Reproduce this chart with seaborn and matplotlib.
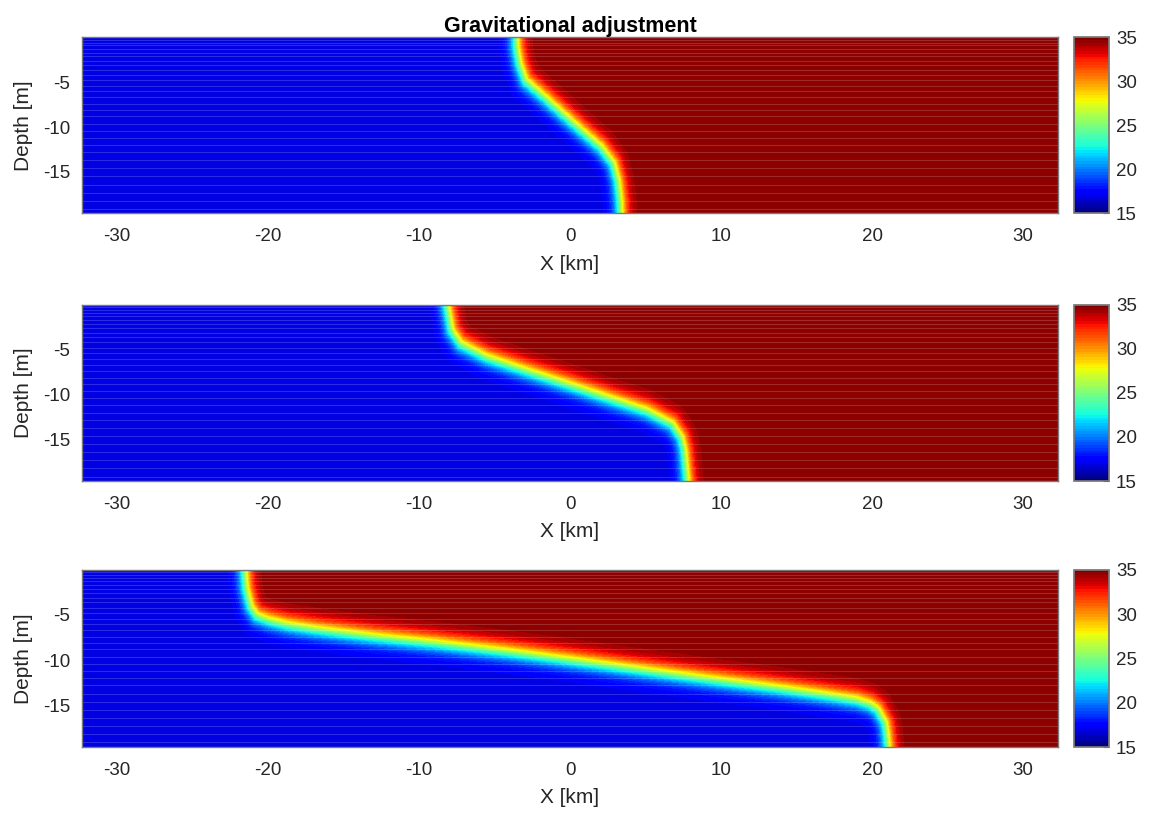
import numpy as np
import matplotlib
matplotlib.use("Agg")
import matplotlib.pyplot as plt
import seaborn as sns
from matplotlib.colors import Normalize
from matplotlib.cm import ScalarMappable

# front position (x in km) read at depths (m) for each snapshot
front_depth_1 = [0, -1.0, -2.9, -4.75, -6.6, -8.5, -10.3, -12.2, -14.0, -15.9, -18.0, -19.6]
front_x_1 = [-3.5, -3.5, -3.3, -2.9, -1.65, -0.4, 0.8, 2.1, 2.9, 3.2, 3.35, 3.4]

front_depth_2 = [0, -2.8, -4.27, -5.75, -7.24, -8.72, -10.2, -11.7, -13.2, -14.7, -16.1, -19.6]
front_x_2 = [-8.1, -7.8, -7.2, -5.5, -2.9, -0.2, 2.4, 5.1, 6.8, 7.4, 7.6, 7.8]

front_depth_3 = [0, -2.0, -4.0, -5.0, -5.5, -6.0, -6.5, -7.3, -8.0, -9.0, -10.0, -11.0,
                 -12.0, -13.0, -13.6, -14.3, -14.8, -15.4, -16.9, -18.0, -19.6]
front_x_3 = [-21.5, -21.4, -21.1, -20.7, -19.9, -18.7, -16.8, -13.0, -9.0, -4.0, 0.5, 4.8,
             9.2, 13.8, 16.3, 19.0, 19.9, 20.4, 20.9, 21.0, 21.1]

light_value = 16.6   # value left of the front
dense_value = 35.0   # value right of the front

# model layer interfaces (m) that show as faint lines in the contour plot
layer_depths = [-0.3, -0.6, -0.9, -1.3, -1.7, -2.1, -2.6, -3.1, -3.6, -4.2, -4.8, -5.4,
                -6.0, -6.7, -7.4, -8.1, -8.8, -9.6, -10.4, -11.2, -12.0, -12.8, -13.7,
                -14.6, -15.5, -16.4, -17.3, -18.2, -19.1]

x_ticks = [-30, -20, -10, 0, 10, 20, 30]
y_ticks = [-15, -10, -5]
cbar_ticks = [15, 20, 25, 30, 35]

x_lim = (-32.3, 32.3)
z_bot = -19.6

sns.set_theme(style="ticks")
plt.rcParams['font.family'] = ['Liberation Sans', 'DejaVu Sans']
plt.rcParams['axes.unicode_minus'] = False

cmap = matplotlib.colormaps['jet']

xg = np.linspace(x_lim[0], x_lim[1], 650)
zg = np.linspace(z_bot, 0, 260)
X, Z = np.meshgrid(xg, zg)


def build_field(depths, xs):
    # two water masses, blurred across the read front line
    zf = np.linspace(z_bot, 0, 1500)
    xf = np.interp(zf, depths[::-1], xs[::-1])
    d2 = np.full(X.shape, np.inf)
    for a, b in zip(xf, zf):
        d2 = np.minimum(d2, ((X - a) / 0.6) ** 2 + ((Z - b) / 1.3) ** 2)
    side = np.where(X > np.interp(Z, zf, xf), 1.0, -1.0)
    mid = (light_value + dense_value) / 2
    amp = (dense_value - light_value) / 2
    return np.clip(mid + amp * np.tanh(side * np.sqrt(d2)), 15, 34.99)


fig = plt.figure(figsize=(11.49, 8.13), dpi=100)
W, H = 1149, 813
panels = [(37.3, 213.3, front_depth_1, front_x_1),
          (304.7, 481.0, front_depth_2, front_x_2),
          (569.7, 747.0, front_depth_3, front_x_3)]

levels = np.arange(15, 35.01, 0.5)
norm = Normalize(vmin=15, vmax=35)
frame = '#7a7a7a'
txt = '#262626'

axes = []
for top, bot, dz, dx in panels:
    ax = fig.add_axes([82 / W, 1 - bot / H, (1058 - 82) / W, (bot - top) / H])
    F = build_field(np.array(dz), np.array(dx))
    ax.contourf(X, Z, F, levels=levels, cmap=cmap, norm=norm)
    ax.hlines(layer_depths, x_lim[0], x_lim[1], colors='white', alpha=0.17, lw=0.8)
    ax.set_xlim(*x_lim)
    ax.set_ylim(z_bot, 0)
    ax.set_xticks(x_ticks)
    ax.set_yticks(y_ticks)
    ax.tick_params(direction='in', top=True, right=True, length=7, width=0.8,
                   color='#333333', labelsize=13.5, labelcolor=txt)
    ax.tick_params(axis='x', pad=10.5)
    ax.tick_params(axis='y', pad=8.4)
    for s in ax.spines.values():
        s.set_color(frame)
        s.set_linewidth(1)
    ax.set_xlabel('X [km]', fontsize=15, color=txt, labelpad=7)
    ax.set_ylabel('Depth [m]', fontsize=15, color=txt, labelpad=7)

    cax = fig.add_axes([1074 / W, 1 - bot / H, 35 / W, (bot - top) / H])
    cb = fig.colorbar(ScalarMappable(norm=norm, cmap=cmap.resampled(64)), cax=cax, ticks=cbar_ticks)
    cb.outline.set_edgecolor(frame)
    cax.tick_params(direction='in', length=4, width=0.8, color='#444444',
                    labelsize=13.5, labelcolor=txt, pad=5)
    axes.append(ax)

axes[0].set_title('Gravitational adjustment', fontsize=15.5, fontweight='bold', color='black', pad=4)

fig.savefig('out.png', dpi=100)
